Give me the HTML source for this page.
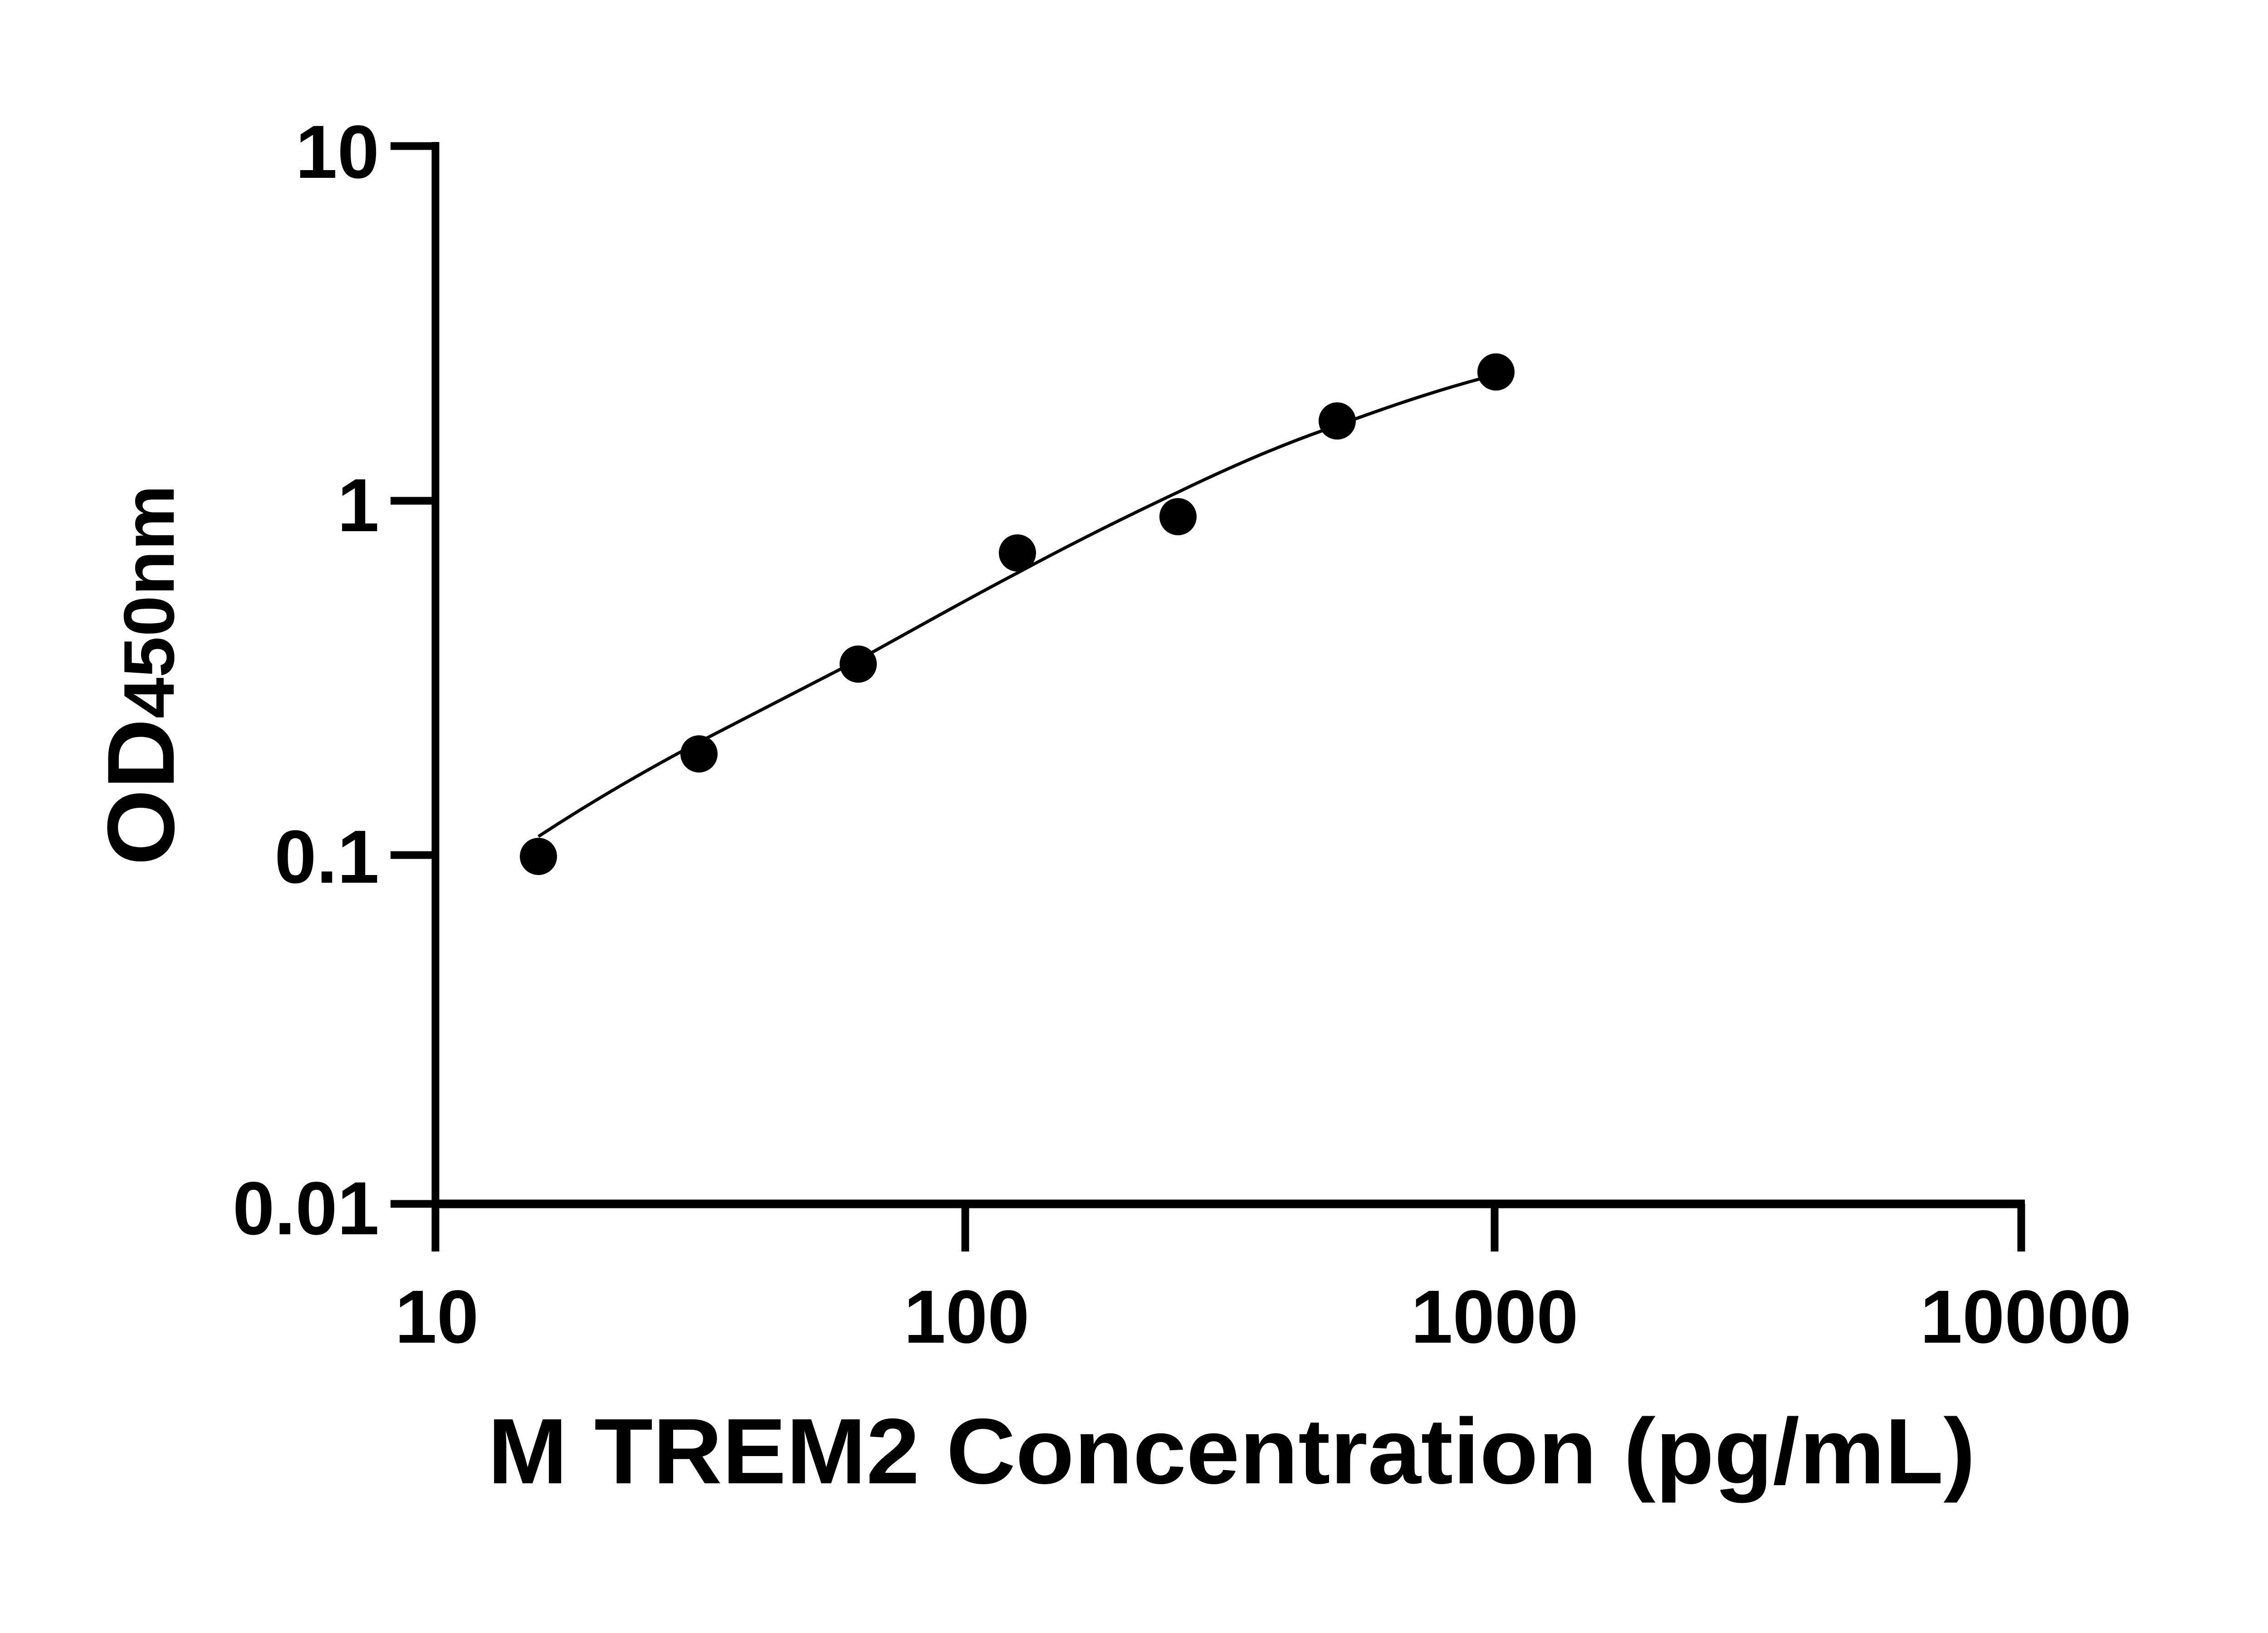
<!DOCTYPE html>
<html><head><meta charset="utf-8"><style>html,body{margin:0;padding:0;background:#fff}svg{display:block}</style></head>
<body>
<svg width="5142" height="3600" viewBox="0 0 5142 3600" xmlns="http://www.w3.org/2000/svg">
<rect width="5142" height="3600" fill="#fff"/>
<g stroke="#000" fill="none" stroke-linecap="butt">
<line x1="960" y1="313" x2="960" y2="2759" stroke-width="17"/>
<line x1="952" y1="2654" x2="4464" y2="2654" stroke-width="19"/>
<line x1="861" y1="322" x2="960" y2="322" stroke-width="17"/>
<line x1="861" y1="1104" x2="960" y2="1104" stroke-width="17"/>
<line x1="861" y1="1885" x2="960" y2="1885" stroke-width="17"/>
<line x1="861" y1="2654" x2="960" y2="2654" stroke-width="17"/>
<line x1="2128" y1="2654" x2="2128" y2="2759" stroke-width="17"/>
<line x1="3295" y1="2654" x2="3295" y2="2759" stroke-width="17"/>
<line x1="4456" y1="2654" x2="4456" y2="2759" stroke-width="17"/>
<path d="M1187,1844 C1300,1770 1420,1700 1541,1636 C1660,1575 1775,1515 1892,1455 C2010,1390 2125,1325 2243,1263 C2360,1200 2480,1140 2597,1085 C2715,1028 2830,978 2948,938 C3065,895 3180,856 3298,826" stroke-width="7"/>
</g>
<g fill="#000">
<circle cx="1187" cy="1888" r="41"/>
<circle cx="1541" cy="1662" r="41"/>
<circle cx="1892" cy="1464" r="41"/>
<circle cx="2243" cy="1219" r="41"/>
<circle cx="2597" cy="1139" r="41"/>
<circle cx="2948" cy="928" r="41"/>
<circle cx="3298" cy="820" r="41"/>
</g>
<g font-family="Liberation Sans, Arial, sans-serif" font-weight="bold" fill="#000" font-size="166">
<text x="836" y="392" text-anchor="end">10</text>
<text x="836" y="1171" text-anchor="end">1</text>
<text x="836" y="1946" text-anchor="end">0.1</text>
<text x="836" y="2721" text-anchor="end">0.01</text>
<text x="963" y="2960" text-anchor="middle">10</text>
<text x="2131" y="2960" text-anchor="middle">100</text>
<text x="3295" y="2960" text-anchor="middle">1000</text>
<text x="4466" y="2960" text-anchor="middle" textLength="466" lengthAdjust="spacingAndGlyphs">10000</text>
<text x="2715" y="3270" text-anchor="middle" font-size="205" textLength="3280" lengthAdjust="spacingAndGlyphs">M TREM2 Concentration (pg/mL)</text>
<text transform="translate(383,1908) rotate(-90)" font-size="210" textLength="839" lengthAdjust="spacingAndGlyphs">OD<tspan font-size="158">450nm</tspan></text>
</g>
</svg>
</body></html>
